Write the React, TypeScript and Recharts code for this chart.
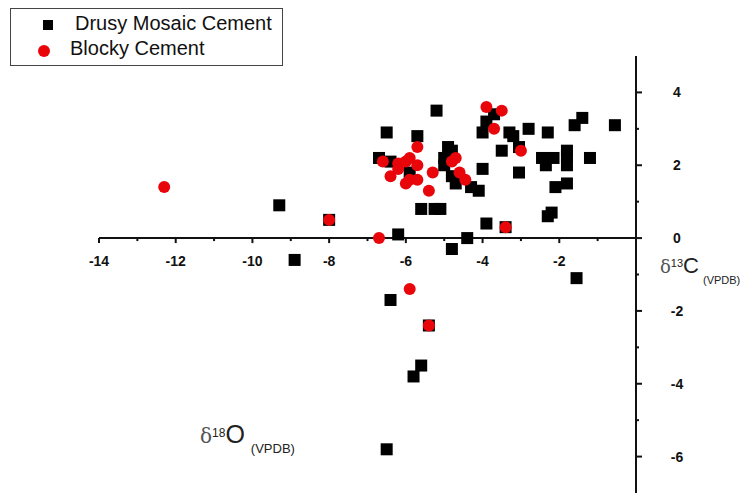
import { ScatterChart, Scatter, XAxis, YAxis, ReferenceLine } from 'recharts'

// Drusy mosaic cement (black squares): [δ18O, δ13C]
const drusyO = [
  -9.3, -8.9, -8.0, -6.2, -6.5, -5.7, -6.7, -6.4, -5.9, -5.6, -5.25, -5.1,
  -5.2, -4.9, -4.8, -5.0, -5.0, -4.8, -4.7, -4.3, -4.1, -4.0, -3.9, -3.7,
  -4.0, -3.5, -3.3, -3.2, -3.05, -3.05, -2.8, -2.3, -2.45, -2.35, -2.15, -2.1,
  -1.8, -1.8, -1.8, -1.8, -1.6, -1.4, -1.2, -0.55, -2.3, -2.2, -1.55, -3.9,
  -3.4, -4.8, -4.4, -6.4, -5.4, -5.6, -5.8, -6.5,
]
const drusyC = [
  0.9, -0.6, 0.5, 0.1, 2.9, 2.8, 2.2, 2.1, 1.8, 0.8, 0.8, 0.8,
  3.5, 2.5, 2.4, 2.2, 2.0, 1.7, 1.5, 1.4, 1.3, 2.9, 3.2, 3.4,
  1.9, 2.4, 2.9, 2.8, 2.5, 1.8, 3.0, 2.9, 2.2, 2.0, 2.2, 1.4,
  2.4, 2.25, 2.0, 1.5, 3.1, 3.3, 2.2, 3.1, 0.6, 0.7, -1.1, 0.4,
  0.3, -0.3, 0.0, -1.7, -2.4, -3.5, -3.8, -5.8,
]

// Blocky cement (red circles)
const blockyO = [
  -12.3, -8.0, -6.7, -6.6, -6.4, -6.2, -6.2, -6.0, -5.9, -5.7, -5.7, -6.0,
  -5.9, -5.7, -5.3, -5.4, -4.8, -4.7, -4.6, -4.45, -3.9, -3.5, -3.7, -3.0,
  -3.4, -5.9, -5.4,
]
const blockyC = [
  1.4, 0.5, 0.0, 2.1, 1.7, 2.05, 1.9, 2.1, 2.2, 2.5, 2.0, 1.5,
  1.6, 1.6, 1.8, 1.3, 2.1, 2.2, 1.8, 1.6, 3.6, 3.5, 3.0, 2.4,
  0.3, -1.4, -2.4,
]

const xTicks = [-14, -13, -12, -11, -10, -9, -8, -7, -6, -5, -4, -3, -2, -1]
const yTicks = [-6, -5, -4, -3, -2, -1, 0, 1, 2, 3, 4]

const drusy = drusyO.map((o, i) => ({ o, c: drusyC[i] }))
const blocky = blockyO.map((o, i) => ({ o, c: blockyC[i] }))

const W = 740
const H = 494
const M = { top: 56, right: 44, bottom: 0, left: 99 }
const X_AXIS_H = 1
const Y_AXIS_W = 60
const Y_MIN = -7
const Y_MAX = 5
// the horizontal axis sits at δ13C = 0, the vertical one at the plot's right edge
const PLOT_H = H - M.top - M.bottom - X_AXIS_H
const ZERO_Y = M.top + ((Y_MAX - 0) / (Y_MAX - Y_MIN)) * PLOT_H
const AXIS_X = W - M.right - Y_AXIS_W

const tickFont = { fontFamily: 'Liberation Sans, Arial, sans-serif', fontSize: 14, fontWeight: 700 }

const XTick = (props: any) => {
  const v = props.payload.value
  const major = v % 2 === 0
  return (
    <g>
      <line x1={props.x} x2={props.x} y1={ZERO_Y} y2={ZERO_Y + (major ? 5 : 3)} stroke="#111" strokeWidth={2} />
      {major && (
        <text x={props.x} y={ZERO_Y + 28} textAnchor="middle" fill="#111" style={tickFont}>
          {v}
        </text>
      )}
    </g>
  )
}

const YTick = (props: any) => {
  const v = props.payload.value
  const major = v % 2 === 0
  return (
    <g>
      <line x1={AXIS_X} x2={AXIS_X + (major ? 6 : 3)} y1={props.y} y2={props.y} stroke="#111" strokeWidth={2} />
      {major && (
        <text x={AXIS_X + 41} y={props.y + 5} textAnchor="middle" fill="#111" style={tickFont}>
          {v}
        </text>
      )}
    </g>
  )
}

const Square = (props: any) => <rect x={props.cx - 6} y={props.cy - 6} width={12} height={12} fill="#000" />
const Dot = (props: any) => <circle cx={props.cx} cy={props.cy} r={6} fill="#e8060b" />

export default function App() {
  return (
    <div style={{ position: 'absolute', left: 0, top: 0, width: W, height: H, background: '#fff', overflow: 'hidden' }}>
      <ScatterChart width={W} height={H} margin={M}>
        <XAxis
          type="number"
          dataKey="o"
          domain={[-14, 0]}
          allowDataOverflow
          ticks={xTicks}
          interval={0}
          height={X_AXIS_H}
          axisLine={false}
          tickLine={false}
          tick={<XTick />}
        />
        <YAxis
          type="number"
          dataKey="c"
          orientation="right"
          domain={[Y_MIN, Y_MAX]}
          allowDataOverflow
          ticks={yTicks}
          interval={0}
          width={Y_AXIS_W}
          axisLine={{ stroke: '#111', strokeWidth: 2 }}
          tickLine={false}
          tick={<YTick />}
        />
        <ReferenceLine y={0} stroke="#111" strokeWidth={2} />
        <Scatter data={drusy} shape={<Square />} isAnimationActive={false} />
        <Scatter data={blocky} shape={<Dot />} isAnimationActive={false} />
      </ScatterChart>

      {/* legend */}
      <div
        style={{
          position: 'absolute', left: 10, top: 8, width: 271, height: 56,
          border: '1px solid #444', fontFamily: 'Liberation Sans, Arial, sans-serif', fontSize: 20, color: '#111',
        }}
      >
        <div style={{ position: 'absolute', left: 32, top: 11, width: 10, height: 10, background: '#000' }} />
        <div style={{ position: 'absolute', left: 64, top: 3, whiteSpace: 'nowrap' }}>Drusy Mosaic Cement</div>
        <div style={{ position: 'absolute', left: 27, top: 36, width: 12, height: 12, borderRadius: 6, background: '#e8060b' }} />
        <div style={{ position: 'absolute', left: 59, top: 28, whiteSpace: 'nowrap' }}>Blocky Cement</div>
      </div>

      {/* axis titles */}
      <div style={{ position: 'absolute', left: 200, top: 420, whiteSpace: 'nowrap', color: '#222', fontFamily: 'Liberation Sans, Arial, sans-serif' }}>
        <span style={{ fontFamily: 'DejaVu Serif, serif', fontSize: 20, color: '#555' }}>δ</span>
        <sup style={{ fontSize: 12 }}>18</sup>
        <span style={{ fontSize: 25 }}>O</span>
        <sub style={{ fontSize: 13, marginLeft: 6, position: 'relative', top: 6 }}>(VPDB)</sub>
      </div>
      <div style={{ position: 'absolute', left: 660, top: 253, whiteSpace: 'nowrap', color: '#222', fontFamily: 'Liberation Sans, Arial, sans-serif' }}>
        <span style={{ fontFamily: 'DejaVu Serif, serif', fontSize: 18, color: '#555' }}>δ</span>
        <sup style={{ fontSize: 11 }}>13</sup>
        <span style={{ fontSize: 22 }}>C</span>
        <sub style={{ fontSize: 11, marginLeft: 4, position: 'relative', top: 7 }}>(VPDB)</sub>
      </div>
    </div>
  )
}
